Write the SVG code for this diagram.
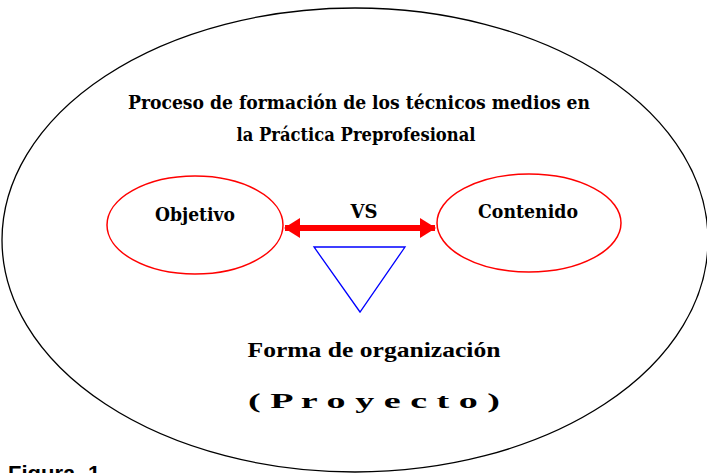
<svg xmlns="http://www.w3.org/2000/svg" width="707" height="473" viewBox="0 0 707 473">
<style>
.title{font-family:"DejaVu Serif","Liberation Serif",serif;font-weight:bold;font-size:19px;fill:#000}
.lbl{font-family:"DejaVu Serif","Liberation Serif",serif;font-weight:bold;font-size:19px;fill:#000}
.garamond{font-family:"Liberation Serif",serif;font-weight:bold;font-size:22px;fill:#000}
.node{fill:none;stroke:#ff0000;stroke-width:1.5}
</style>
<defs>
<marker id="ah" viewBox="0 0 16 20" refX="15" refY="10" markerWidth="16" markerHeight="20" markerUnits="userSpaceOnUse" orient="auto-start-reverse">
<path d="M0,0 L16,10 L0,20 Z" fill="#ff0000"/>
</marker>
</defs>
<rect width="707" height="473" fill="#fff"/>
<g id="outer">
<ellipse cx="355" cy="240" rx="353" ry="232" fill="none" stroke="#000" stroke-width="1.3"/>
<text class="title" x="359" y="109" text-anchor="middle" textLength="462" lengthAdjust="spacingAndGlyphs">Proceso de formación de los técnicos medios en</text>
<text class="title" x="356" y="141" text-anchor="middle" textLength="239" lengthAdjust="spacingAndGlyphs">la Práctica Preprofesional</text>
</g>
<g id="objetivo">
<ellipse class="node" cx="195" cy="225" rx="88" ry="49"/>
<text class="lbl" x="195" y="221" text-anchor="middle" textLength="80" lengthAdjust="spacingAndGlyphs">Objetivo</text>
</g>
<g id="contenido">
<ellipse class="node" cx="529" cy="223" rx="92" ry="49"/>
<text class="lbl" x="528" y="218" text-anchor="middle" textLength="100" lengthAdjust="spacingAndGlyphs">Contenido</text>
</g>
<g id="connectors">
<line x1="285" y1="228" x2="435" y2="228" stroke="#ff0000" stroke-width="6" marker-start="url(#ah)" marker-end="url(#ah)"/>
<text class="lbl" x="364" y="218" text-anchor="middle" textLength="27" lengthAdjust="spacingAndGlyphs">VS</text>
</g>
<g id="forma">
<polygon points="314,247 405,247 360,312" fill="none" stroke="#0000ff" stroke-width="1.3"/>
<text class="garamond" x="374" y="357" text-anchor="middle" textLength="253" lengthAdjust="spacingAndGlyphs">Forma de organización</text>
<text class="garamond" x="374" y="408" text-anchor="middle" textLength="252" lengthAdjust="spacingAndGlyphs">( P r o y e c t o )</text>
</g>
<text x="8" y="481" font-family="Liberation Sans,Arial,sans-serif" font-weight="bold" font-size="22" fill="#000">Figura<tspan x="88">1</tspan></text>
</svg>
